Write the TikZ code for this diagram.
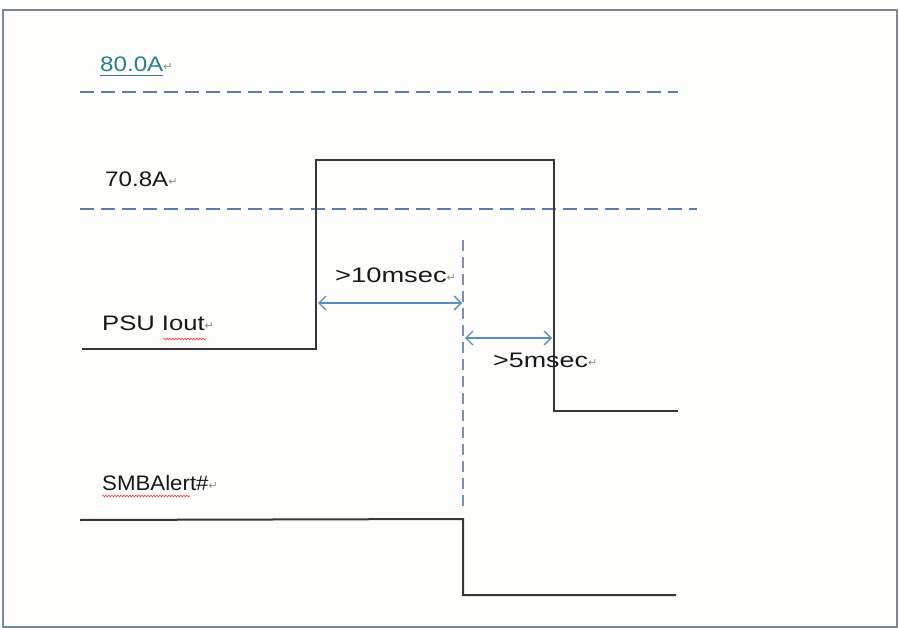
\documentclass[tikz,border=0pt]{standalone}
\usepackage{fontspec}
\setmainfont{Liberation Sans}
\newfontfamily\symfont{DejaVu Sans}
\usetikzlibrary{arrows.meta,decorations.pathmorphing}
\definecolor{framec}{RGB}{125,135,148}
\definecolor{bgc}{RGB}{253,253,251}
\definecolor{dashc}{RGB}{95,125,170}
\definecolor{arrowc}{RGB}{90,140,195}
\definecolor{sigc}{RGB}{55,55,55}
\definecolor{tealc}{RGB}{40,128,140}
\definecolor{txtc}{RGB}{25,25,25}
\newcommand{\lbl}[2]{\scalebox{#1}[1]{#2}}
\newcommand{\pmark}{{\symfont\fontsize{11}{12}\selectfont\color{black!45}\raisebox{1pt}{↵}}}
\tikzset{
  lab/.style={anchor=base west, inner sep=0pt, text=txtc, font=\fontsize{21}{25}\selectfont},
  refline/.style={draw=dashc, line width=1.8pt, dash pattern=on 14pt off 7pt},
  markline/.style={draw=dashc!85, line width=1.6pt, dash pattern=on 11pt off 6pt},
  sig/.style={draw=sigc, line width=2pt},
  span/.style={draw=arrowc, line width=1.4pt, {Straight Barb[length=7pt,width=14pt]}-{Straight Barb[length=7pt,width=14pt]}},
  spell/.style={draw=red!80, line width=0.6pt, decorate, decoration={snake, amplitude=0.9pt, segment length=3pt}}
}
\begin{document}
\begin{tikzpicture}[x=1pt,y=-1pt]
\useasboundingbox (0,0) rectangle (899,628);
\fill[white] (0,0) rectangle (899,628);
\draw[framec, fill=bgc, line width=1.4pt] (3,10) rectangle (897,627);

% reference levels
\node[lab, text=tealc] (l80) at (100,72) {\lbl{1.15}{80.0A}\pmark};
\draw[tealc, line width=1pt] (100,76) -- (163,76);
\coordinate (d1a) at (80,92); \coordinate (d1b) at (678,92);
\draw[refline] (d1a) -- (d1b);

\node[lab] (l70) at (105,187) {\lbl{1.15}{70.8A}\pmark};
\coordinate (d2a) at (80,209); \coordinate (d2b) at (697,209);
\draw[refline] (d2a) -- (d2b);

% PSU Iout
\node[lab] (lpsu) at (102,330) {\lbl{1.22}{PSU Iout}\pmark};
\draw[spell] (163,339) -- (206,339);
\coordinate (p0) at (82,349);
\coordinate (p1) at (316,349);
\coordinate (p2) at (316,160);
\coordinate (p3) at (554,160);
\coordinate (p4) at (554,411);
\coordinate (p5) at (678,411);
\draw[sig] (p0) -- (p1) -- (p2) -- (p3) -- (p4) -- (p5);

% marker
\coordinate (mTop) at (463,240);
\coordinate (mBot) at (463,512);
\draw[markline] (mTop) -- (mBot);

% spans
\coordinate (a1) at (318,303); \coordinate (a2) at (462,303);
\draw[span] (a1) -- (a2);
\node[lab] (t10) at (335,283) {\lbl{1.3}{>10msec}\pmark};
\coordinate (b1) at (465,338); \coordinate (b2) at (552,338);
\draw[span] (b1) -- (b2);
\node[lab] (t5) at (493,367) {\lbl{1.28}{>5msec}\pmark};

% SMBAlert#
\node[lab] (lsmb) at (102,490) {\lbl{1.06}{SMBAlert\#}\pmark};
\draw[spell] (102,496) -- (190,496);
\coordinate (s0) at (80,520);
\coordinate (s1) at (463,519);
\coordinate (s2) at (463,595);
\coordinate (s3) at (676,595);
\draw[sig] (s0) -- (s1) -- (s2) -- (s3);
\end{tikzpicture}
\end{document}
